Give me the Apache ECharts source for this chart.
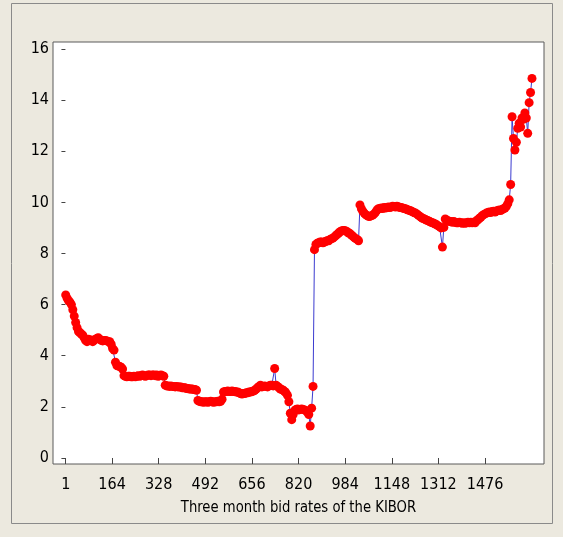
<!DOCTYPE html>
<html>
<head>
<meta charset="utf-8">
<script src="https://cdn.jsdelivr.net/npm/echarts@6/dist/echarts.min.js"></script>
<style>
  html, body { margin: 0; padding: 0; background: #ECE9DF; }
  #chart { width: 563px; height: 537px; }
</style>
</head>
<body>
<div id="chart"></div>
<script>
// Three month bid rates of the KIBOR, one reading every 5th observation
const obsStep = 5;
const rates = [
  6.38, 6.25, 6.15, 6.1, 6.0, 5.8, 5.55, 5.3, 5.1, 4.95,
  4.9, 4.85, 4.8, 4.7, 4.6, 4.55, 4.65, 4.6, 4.62, 4.55,
  4.6, 4.65, 4.68, 4.7, 4.65, 4.6, 4.58, 4.6, 4.6, 4.58,
  4.55, 4.55, 4.45, 4.28, 4.22, 3.75, 3.62, 3.6, 3.58, 3.55,
  3.48, 3.22, 3.2, 3.18, 3.2, 3.2, 3.18, 3.18, 3.2, 3.18,
  3.2, 3.22, 3.2, 3.22, 3.25, 3.22, 3.2, 3.22, 3.25, 3.25,
  3.22, 3.25, 3.25, 3.22, 3.25, 3.2, 3.22, 3.25, 3.22, 3.2,
  2.85, 2.82, 2.82, 2.8, 2.82, 2.8, 2.8, 2.78, 2.8, 2.78,
  2.78, 2.78, 2.75, 2.75, 2.75, 2.72, 2.72, 2.7, 2.7, 2.7,
  2.68, 2.68, 2.65, 2.25, 2.22, 2.2, 2.2, 2.18, 2.2, 2.2,
  2.18, 2.2, 2.22, 2.2, 2.18, 2.2, 2.2, 2.22, 2.2, 2.22,
  2.3, 2.58, 2.6, 2.6, 2.62, 2.6, 2.6, 2.62, 2.6, 2.6,
  2.58, 2.58, 2.55, 2.52, 2.5, 2.52, 2.52, 2.55, 2.55, 2.58,
  2.58, 2.6, 2.62, 2.65, 2.7, 2.75, 2.8, 2.85, 2.78, 2.8,
  2.82, 2.8, 2.78, 2.82, 2.85, 2.85, 2.82, 3.5, 2.85, 2.8,
  2.75, 2.7, 2.68, 2.65, 2.6, 2.55, 2.45, 2.2, 1.75, 1.5,
  1.7, 1.85, 1.9, 1.92, 1.88, 1.9, 1.92, 1.9, 1.88, 1.85,
  1.8, 1.7, 1.25, 1.95, 2.8, 8.15, 8.35, 8.4, 8.42, 8.45,
  8.45, 8.42, 8.45, 8.48, 8.5, 8.5, 8.55, 8.58, 8.6, 8.65,
  8.7, 8.75, 8.8, 8.85, 8.88, 8.9, 8.9, 8.88, 8.85, 8.8,
  8.78, 8.72, 8.68, 8.62, 8.58, 8.55, 8.5, 9.9, 9.75, 9.65,
  9.58, 9.52, 9.48, 9.45, 9.45, 9.48, 9.5, 9.55, 9.62, 9.7,
  9.75, 9.76, 9.78, 9.76, 9.8, 9.78, 9.8, 9.82, 9.8, 9.82,
  9.85, 9.84, 9.82, 9.85, 9.83, 9.8, 9.8, 9.78, 9.76, 9.75,
  9.72, 9.7, 9.68, 9.66, 9.63, 9.6, 9.58, 9.55, 9.5, 9.46,
  9.42, 9.38, 9.36, 9.33, 9.3, 9.28, 9.25, 9.22, 9.2, 9.18,
  9.15, 9.12, 9.08, 9.05, 9.0, 8.25, 9.02, 9.35, 9.3, 9.28,
  9.25, 9.25, 9.22, 9.25, 9.22, 9.2, 9.2, 9.22, 9.2, 9.18,
  9.2, 9.18, 9.2, 9.22, 9.2, 9.22, 9.2, 9.22, 9.2, 9.28,
  9.32, 9.38, 9.42, 9.48, 9.52, 9.55, 9.58, 9.6, 9.62, 9.6,
  9.64, 9.65, 9.62, 9.66, 9.68, 9.7, 9.68, 9.72, 9.75, 9.78,
  9.85, 9.95, 10.1, 10.7, 13.35, 12.5, 12.05, 12.35, 12.9, 13.1,
  12.95, 13.3, 13.25, 13.5, 13.3, 12.7, 13.9, 14.3, 14.85
];
const xTicks = [1, 164, 328, 492, 656, 820, 984, 1148, 1312, 1476];
const yTicks = [0, 2, 4, 6, 8, 10, 12, 14, 16];
const xTitle = 'Three month bid rates of the KIBOR';

const seriesData = rates.map((r, i) => [1 + i * obsStep, r]);

const labelFont = "'Liberation Sans Narrow', 'DejaVu Sans Condensed', 'Liberation Sans', sans-serif";
const plainNumber = v => String(v);

const chart = echarts.init(document.getElementById('chart'), null, { renderer: 'canvas' });
chart.setOption({
  backgroundColor: '#ECE9DF',
  animation: false,
  grid: {
    left: 53, right: 19, top: 42, bottom: 73,
    show: true, backgroundColor: '#ffffff', borderColor: '#5a5a5a', borderWidth: 1
  },
  graphic: [{
    type: 'rect',
    shape: { x: 11.5, y: 3.5, width: 541, height: 520 },
    style: { fill: 'none', stroke: '#8a8a8a', lineWidth: 1 },
    silent: true
  }, {
    // axis title, drawn slightly compressed horizontally
    type: 'text',
    x: 298.5, y: 508,
    scaleX: 0.89, scaleY: 1,
    style: {
      text: xTitle, fontFamily: labelFont, fontSize: 16.5, fill: '#000',
      align: 'center', verticalAlign: 'middle'
    },
    silent: true
  }],
  xAxis: {
    type: 'value',
    min: -43.7, max: 1683.3,
    axisLine: { show: false },
    splitLine: { show: false },
    axisTick: { show: true, customValues: xTicks, length: 6, lineStyle: { color: '#444' } },
    axisLabel: { customValues: xTicks, formatter: plainNumber, fontFamily: labelFont, fontSize: 16, color: '#000', margin: 13 }
  },
  yAxis: {
    type: 'value',
    min: -0.235, max: 16.274,
    axisLine: { show: false },
    splitLine: { show: false },
    axisTick: { show: true, customValues: yTicks, length: 4, lineStyle: { color: '#444' } },
    axisLabel: { customValues: yTicks, formatter: plainNumber, fontFamily: labelFont, fontSize: 16, color: '#000', margin: 4 }
  },
  series: [{
    type: 'line',
    data: seriesData,
    showAllSymbol: true,
    symbol: 'circle',
    symbolSize: 9,
    itemStyle: { color: '#ff0000', borderWidth: 0 },
    lineStyle: { color: '#3b3bd0', width: 1 },
    emphasis: { disabled: true }
  }]
});
</script>
</body>
</html>
